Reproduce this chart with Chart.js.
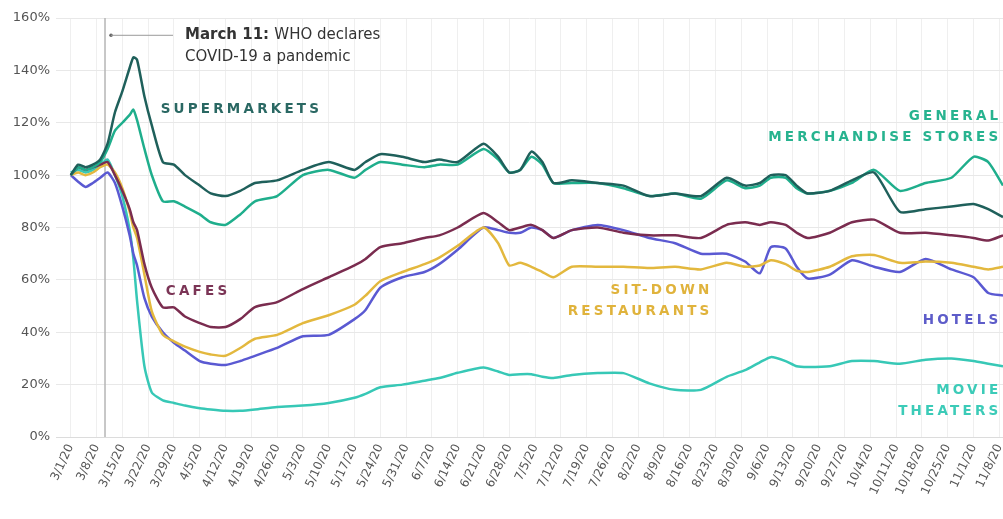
<!DOCTYPE html>
<html>
<head>
<meta charset="utf-8">
<script src="https://cdn.jsdelivr.net/npm/chart.js@4.4.0/dist/chart.umd.min.js"></script>
<style>
    html, body { margin: 0; padding: 0; background: #fff; }
    #wrap { width: 1003px; height: 519px; }
</style>
</head>
<body>
<div id="wrap"><canvas id="chart"></canvas></div>
<script>
// Days since 3/1/20
const days = [0, 2, 4, 6, 8, 10, 12, 14, 16, 17, 18, 20, 22, 25, 28, 31, 35, 38, 42, 46, 50, 56, 63, 70, 77, 80, 84, 90, 96, 100, 105, 112, 116, 119, 122, 125, 128, 131, 136, 143, 150, 157, 164, 171, 178, 183, 187, 190, 194, 197, 200, 206, 212, 218, 225, 232, 239, 245, 249, 253];

// Weekly tick labels
const weekLabels = ['3/1/20', '3/8/20', '3/15/20', '3/22/20', '3/29/20', '4/5/20', '4/12/20', '4/19/20', '4/26/20', '5/3/20', '5/10/20', '5/17/20', '5/24/20', '5/31/20', '6/7/20', '6/14/20', '6/21/20', '6/28/20', '7/5/20', '7/12/20', '7/19/20', '7/26/20', '8/2/20', '8/9/20', '8/16/20', '8/23/20', '8/30/20', '9/6/20', '9/13/20', '9/20/20', '9/27/20', '10/4/20', '10/11/20', '10/18/20', '10/25/20', '11/1/20', '11/8/20'];

// Visits vs. baseline (%)
const supermarkets = [100, 104, 103, 104, 106, 112, 124, 132, 141, 145, 144, 130, 119, 105, 104, 100, 96, 93, 92, 94, 97, 98, 102, 105, 102, 105, 108, 107, 105, 106, 105, 112, 107, 101, 102, 109, 105, 97, 98, 97, 96, 92, 93, 92, 99, 96, 97, 100, 100, 96, 93, 94, 98, 101, 86, 87, 88, 89, 87, 84];
const generalMerch = [100, 103, 102, 103, 105, 110, 117, 120, 123, 125, 121, 110, 100, 90, 90, 88, 85, 82, 81, 85, 90, 92, 100, 102, 99, 102, 105, 104, 103, 104, 104, 110, 106, 101, 102, 107, 104, 97, 97, 97, 95, 92, 93, 91, 98, 95, 96, 99, 99, 95, 93, 94, 97, 102, 94, 97, 99, 107, 105, 96];
const cafes = [100, 103, 102, 103, 104, 105, 100, 94, 87, 82, 79, 66, 57, 49.5, 49.5, 46, 43.5, 42, 42, 45, 49.6, 51.5, 56.5, 61, 65.5, 68, 72.5, 74, 76, 77, 80, 85.5, 82, 79, 80, 81, 79, 76, 79, 80, 78, 77, 77, 76, 81, 82, 81, 82, 81, 78, 76, 78, 82, 83, 78, 78, 77, 76, 75, 77];
const restaurants = [100, 101, 100, 101, 103, 104, 101, 95, 86, 80, 76, 62, 48, 39, 36.5, 34.5, 32.5, 31.5, 31, 34, 37.5, 39, 43.5, 46.5, 50.5, 54, 59.5, 63, 66, 68.5, 73, 80, 74, 65.5, 66.5, 65, 63, 61, 65, 65, 65, 64.5, 65, 64, 66.5, 65, 65.5, 67.5, 66, 63.5, 63, 65, 69, 69.5, 66.5, 67, 66.5, 65, 64, 65];
const hotels = [100, 97.5, 95.5, 97, 99, 101, 97, 88, 77, 70, 65.5, 53, 46, 40, 36, 33, 29, 28, 27.5, 29, 31, 34, 38.5, 39, 45, 48.5, 57, 61, 63, 66, 71.5, 80, 79, 78, 78, 80, 79, 76, 79, 81, 79, 76, 74, 70, 70, 67, 62.5, 72.5, 72, 65, 60.5, 62, 67.5, 65, 63, 68, 64, 61, 55, 54];
const movieTheaters = [101, 102, 101, 102, 104, 106, 100, 92, 79, 68, 52, 27, 17, 14, 13, 12, 11, 10.5, 10, 10, 10.5, 11.5, 12, 13, 15, 16.5, 19, 20, 21.5, 22.5, 24.5, 26.5, 25, 23.7, 24, 24, 23, 22.5, 23.7, 24.4, 24.4, 20.5, 18, 18, 23, 25.5, 28.5, 30.5, 29, 27, 26.7, 27, 29, 29, 28, 29.5, 30, 29, 28, 27];

const marchLineDay = 9.3;

const colors = {
    supermarkets: '#1f605b',
    generalMerch: '#1fae8c',
    cafes: '#7a2c4f',
    restaurants: '#e3b83e',
    hotels: '#5a59d2',
    movieTheaters: '#37c8b6'
};

function toPoints(values) {
    return values.map((v, i) => ({ x: days[i], y: v }));
}

function series(label, values, color) {
    return {
        label: label,
        data: toPoints(values),
        borderColor: color,
        backgroundColor: color,
        borderWidth: 2.5,
        pointRadius: 0,
        tension: 0.2,
        fill: false
    };
}

// Series names written on the chart (day, value, align)
const seriesLabels = [
    { lines: ['SUPERMARKETS'], day: 24.4, value: 125.2, align: 'left', color: '#2a6863' },
    { lines: ['GENERAL', 'MERCHANDISE STORES'], day: 251.7, value: 122.5, align: 'right', color: '#27b38f' },
    { lines: ['CAFES'], day: 25.8, value: 55.7, align: 'left', color: '#7b3556' },
    { lines: ['SIT-DOWN', 'RESTAURANTS'], day: 173.3, value: 56.1, align: 'right', color: '#e0b33c' },
    { lines: ['HOTELS'], day: 251.7, value: 44.3, align: 'right', color: '#5d5cc9' },
    { lines: ['MOVIE', 'THEATERS'], day: 251.7, value: 17.9, align: 'right', color: '#3ccbb8' }
];

const annotations = {
    id: 'annotations',
    beforeDatasetsDraw(chart) {
        const { ctx, chartArea, scales } = chart;
        const x = scales.x.getPixelForValue(marchLineDay);
        ctx.save();
        ctx.strokeStyle = '#b5b5b5';
        ctx.lineWidth = 1.5;
        ctx.beginPath();
        ctx.moveTo(x, chartArea.top);
        ctx.lineTo(x, chartArea.bottom);
        ctx.stroke();
        ctx.restore();
    },
    afterDatasetsDraw(chart) {
        const { ctx, scales } = chart;
        const x = scales.x.getPixelForValue(marchLineDay);
        const y = scales.y.getPixelForValue(153.4);
        ctx.save();

        // pointer from the March 11 line
        ctx.fillStyle = '#666';
        ctx.beginPath();
        ctx.arc(x + 6, y, 1.8, 0, Math.PI * 2);
        ctx.fill();
        ctx.strokeStyle = '#999';
        ctx.lineWidth = 1;
        ctx.beginPath();
        ctx.moveTo(x + 6, y);
        ctx.lineTo(x + 68, y);
        ctx.stroke();

        ctx.textBaseline = 'middle';
        ctx.textAlign = 'left';
        ctx.fillStyle = '#333';
        ctx.font = 'bold 15px "DejaVu Sans"';
        ctx.fillText('March 11:', x + 80, y);
        const w = ctx.measureText('March 11: ').width;
        ctx.font = '15px "DejaVu Sans"';
        ctx.fillText('WHO declares', x + 80 + w, y);
        ctx.fillText('COVID-19 a pandemic', x + 80, y + 22);

        // series names
        const spacing = 3.2;
        ctx.font = 'bold 13.5px "DejaVu Sans"';
        ctx.letterSpacing = spacing + 'px';
        seriesLabels.forEach(lbl => {
            let lx = scales.x.getPixelForValue(lbl.day);
            if (lbl.align === 'right') lx += spacing; // drop trailing gap
            const ly = scales.y.getPixelForValue(lbl.value);
            ctx.fillStyle = lbl.color;
            ctx.textAlign = lbl.align;
            lbl.lines.forEach((line, i) => {
                ctx.fillText(line, lx, ly + i * 21);
            });
        });
        ctx.restore();
    }
};

new Chart(document.getElementById('chart').getContext('2d'), {
    type: 'line',
    data: {
        datasets: [
            series('Supermarkets', supermarkets, colors.supermarkets),
            series('General Merchandise Stores', generalMerch, colors.generalMerch),
            series('Cafes', cafes, colors.cafes),
            series('Sit-Down Restaurants', restaurants, colors.restaurants),
            series('Hotels', hotels, colors.hotels),
            series('Movie Theaters', movieTheaters, colors.movieTheaters)
        ]
    },
    options: {
        responsive: true,
        maintainAspectRatio: false,
        animation: false,
        layout: { padding: { top: 18, right: 0, left: 0, bottom: 0 } },
        plugins: {
            legend: { display: false },
            tooltip: { enabled: false }
        },
        scales: {
            x: {
                type: 'linear',
                min: -4,
                max: 253,
                afterBuildTicks: axis => {
                    axis.ticks = weekLabels.map((_, i) => ({ value: i * 7 }));
                },
                afterFit: axis => {
                    axis.height = 82;
                    axis.paddingRight = 0;
                },
                grid: { color: '#efefef', drawTicks: false },
                border: { color: '#dcdcdc' },
                ticks: {
                    autoSkip: false,
                    maxRotation: 65,
                    minRotation: 65,
                    padding: 5,
                    color: '#555',
                    font: { family: 'DejaVu Sans', size: 12 },
                    callback: value => weekLabels[Math.round(value / 7)]
                }
            },
            y: {
                min: 0,
                max: 160,
                afterFit: axis => { axis.width = 56; },
                grid: { color: '#e8e8e8', drawTicks: false },
                border: { display: false },
                ticks: {
                    stepSize: 20,
                    padding: 6,
                    color: '#555',
                    font: { family: 'DejaVu Sans', size: 13 },
                    callback: value => value + '%'
                }
            }
        }
    },
    plugins: [annotations]
});
</script>
</body>
</html>
